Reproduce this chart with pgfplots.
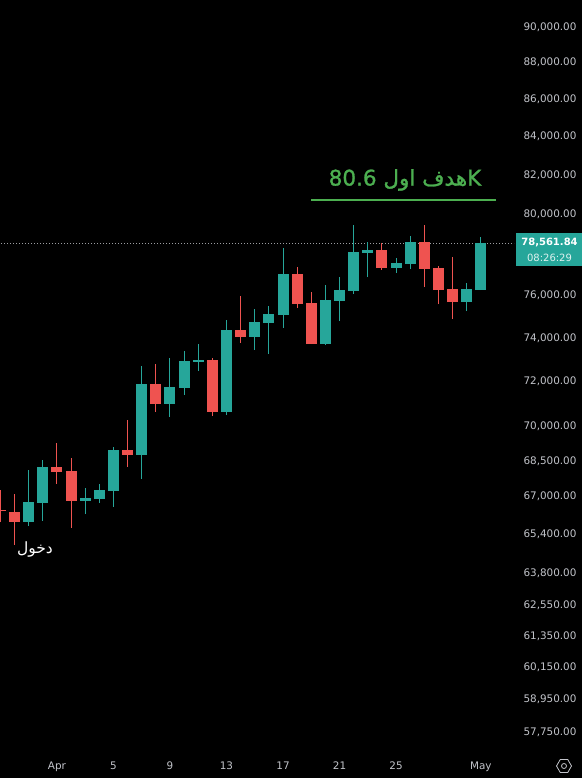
\documentclass[border=0pt]{standalone}
\usepackage{pgfplots}
\pgfplotsset{compat=1.18}
\usepackage{fontspec}
\setmainfont{DejaVu Sans}
\newfontfamily\arabicfont[Script=Arabic]{DejaVu Sans}
\newfontfamily\greenarabic[Script=Arabic, FakeBold=1.2]{DejaVu Sans}
\newfontfamily\greenlatin[FakeBold=1.2]{DejaVu Sans}
\TeXXeTstate=1
\usetikzlibrary{shapes.geometric}
\definecolor{tvteal}{HTML}{26A69A}
\definecolor{tvred}{HTML}{EF5350}
\definecolor{tvgreen}{HTML}{4CAF50}
\definecolor{tvtext}{HTML}{C2C4CA}

\begin{document}
\begin{tikzpicture}
\path[use as bounding box] (0,0) rectangle (582pt,778pt);
\fill[black] (0,0) rectangle (582pt,778pt);
% prices in thousands of USD, index 0 = Apr 1
\begin{axis}[
  at={(0pt,28pt)}, anchor=south west,
  scale only axis, width=514pt, height=750pt,
  xmin=-4.03, xmax=32.35,
  ymode=log, ymin=57.1, ymax=91.543,
  unbounded coords=jump,
  axis line style={draw=none},
  major tick length=0pt, minor tick length=0pt,
  minor y tick num=0,
  yticklabel pos=right,
  ytick={90,88,86,84,82,80,76,74,72,70,68.5,67,65.4,63.8,62.55,61.35,60.15,58.95,57.75},
  yticklabels={{90,000.00},{88,000.00},{86,000.00},{84,000.00},{82,000.00},{80,000.00},{76,000.00},{74,000.00},{72,000.00},{70,000.00},{68,500.00},{67,000.00},{65,400.00},{63,800.00},{62,550.00},{61,350.00},{60,150.00},{58,950.00},{57,750.00}},
  xtick={0,4,8,12,16,20,24,30},
  xticklabels={Apr,5,9,13,17,21,25,May},
  tick label style={font=\fontsize{10.4}{12}\selectfont, text=tvtext},
  yticklabel style={anchor=west, xshift=6pt},
  xticklabel style={anchor=base, yshift=-20pt},
]
% last price line
\addplot[tvtext!80!black, line width=0.8pt, dash pattern=on 1pt off 2pt] coordinates {(-5,78.56184) (34,78.56184)};
% up candles: wicks low-high
\addplot[tvteal, line width=1pt] coordinates {
(-2,65.747) (-2,68.104) (-2,nan)
(-1,65.953) (-1,68.534) (-1,nan)
(2,66.245) (2,67.337) (2,nan)
(3,66.705) (3,67.507) (3,nan)
(4,66.537) (4,69.097) (4,nan)
(6,67.720) (6,72.711) (6,nan)
(8,70.414) (8,73.078) (8,nan)
(9,71.396) (9,73.401) (9,nan)
(10,72.482) (10,73.724) (10,nan)
(12,70.502) (12,74.847) (12,nan)
(14,73.447) (14,75.366) (14,nan)
(15,73.263) (15,75.508) (15,nan)
(16,74.471) (16,78.314) (16,nan)
(19,73.678) (19,76.513) (19,nan)
(20,74.800) (20,76.899) (20,nan)
(21,76.081) (21,79.456) (21,nan)
(22,76.899) (22,78.610) (22,nan)
(24,77.092) (24,77.823) (24,nan)
(25,77.287) (25,78.907) (25,nan)
(29,75.272) (29,76.609) (29,nan)
(30,76.273) (30,78.858)
};
% up candles: bodies open-close
\addplot[tvteal, line width=11pt, line cap=butt] coordinates {
(-2,65.912) (-2,66.747) (-2,nan)
(-1,66.705) (-1,68.233) (-1,nan)
(2,66.789) (2,66.915) (2,nan)
(3,66.873) (3,67.252) (3,nan)
(4,67.210) (4,68.966) (4,nan)
(6,68.750) (6,71.892) (6,nan)
(8,70.992) (8,71.756) (8,nan)
(9,71.711) (9,72.941) (9,nan)
(10,72.895) (10,72.986) (10,nan)
(12,70.636) (12,74.377) (12,nan)
(14,74.050) (14,74.752) (14,nan)
(15,74.705) (15,75.129) (15,nan)
(16,75.082) (16,77.044) (16,nan)
(19,73.724) (19,75.794) (19,nan)
(20,75.747) (20,76.273) (20,nan)
(21,76.225) (21,78.117) (21,nan)
(22,78.068) (22,78.215) (22,nan)
(24,77.335) (24,77.579) (24,nan)
(25,77.530) (25,78.610) (25,nan)
(29,75.699) (29,76.321) (29,nan)
(30,76.273) (30,78.56184)
};
% down candles: wicks
\addplot[tvred, line width=1pt] coordinates {
(-4,65.912) (-4,67.252) (-4,nan)
(-3,64.965) (-3,67.084) (-3,nan)
(0,67.507) (0,69.271) (0,nan)
(1,65.664) (1,68.620) (1,nan)
(5,68.233) (5,70.281) (5,nan)
(7,70.636) (7,72.803) (7,nan)
(11,70.458) (11,73.078) (11,nan)
(13,73.771) (13,75.985) (13,nan)
(17,75.414) (17,77.384) (17,nan)
(18,73.724) (18,76.177) (18,nan)
(23,77.238) (23,78.560) (23,nan)
(26,76.417) (26,79.456) (26,nan)
(27,75.604) (27,77.432) (27,nan)
(28,74.894) (28,77.872)
};
% down candles: bodies
\addplot[tvred, line width=11pt, line cap=butt] coordinates {
(-4,66.370) (-4,66.420) (-4,nan)
(-3,65.912) (-3,66.328) (-3,nan)
(0,68.018) (0,68.233) (0,nan)
(1,66.789) (1,68.061) (1,nan)
(5,68.750) (5,68.966) (5,nan)
(7,70.992) (7,71.892) (7,nan)
(11,70.636) (11,72.986) (11,nan)
(13,74.050) (13,74.377) (13,nan)
(17,75.604) (17,77.044) (17,nan)
(18,73.724) (18,75.651) (18,nan)
(23,77.335) (23,78.215) (23,nan)
(26,77.287) (26,78.610) (26,nan)
(27,76.273) (27,77.335) (27,nan)
(28,75.699) (28,76.321)
};
\end{axis}
% current price label
\node[anchor=north west, fill=tvteal, minimum width=66pt, minimum height=33pt, inner sep=0pt] at (516pt,545pt) {};
\node[text=white, font=\fontsize{10}{12}\selectfont\bfseries] at (549.5pt,535pt) {78,561.84};
\node[text=white!85!tvteal, font=\fontsize{10}{12}\selectfont] at (549.5pt,520pt) {08:26:29};
% target annotation
\node[text=tvgreen, font=\fontsize{21.5}{26}\selectfont, inner sep=0pt] at (405pt,598pt)
  {\greenlatin 80.6 {\greenarabic\beginR اول\endR} {\greenarabic\beginR هدف\endR}K};
\draw[tvgreen, line width=2pt] (311pt,578pt) -- (496pt,578pt);
% entry label
\node[text=white, font=\arabicfont\fontsize{15.5}{18}\selectfont] at (35pt,228pt) {\beginR دخول\endR};
% settings icon
\node[draw=tvtext, regular polygon, regular polygon sides=6, minimum size=15pt, inner sep=0pt, line width=0.8pt] at (564pt,12pt) {};
\draw[tvtext, line width=0.8pt] (564pt,12pt) circle (2.5pt);
\end{tikzpicture}
\end{document}
